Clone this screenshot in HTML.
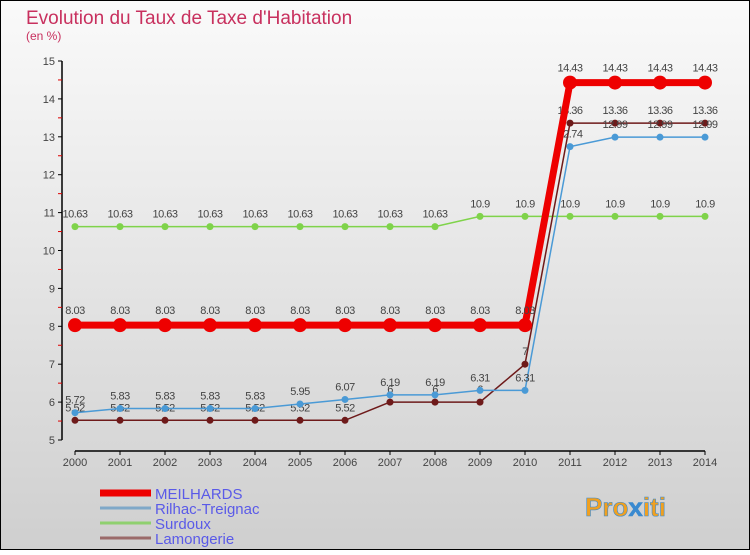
<!DOCTYPE html>
<html><head><meta charset="utf-8"><style>
body{margin:0;width:750px;height:550px;overflow:hidden;font-family:"Liberation Sans",sans-serif}
</style></head><body>
<svg width="750" height="550" xmlns="http://www.w3.org/2000/svg">
<defs><linearGradient id="bg" x1="0" y1="0" x2="0" y2="1"><stop offset="0" stop-color="#fafafa"/><stop offset="1" stop-color="#cfcfcf"/></linearGradient></defs>
<rect x="0.5" y="0.5" width="749" height="549" fill="url(#bg)" stroke="#000"/>
<text x="26" y="24" font-size="19" fill="#c8305e">Evolution du Taux de Taxe d'Habitation</text>
<text x="26" y="40" font-size="12" fill="#c8305e">(en %)</text>
<g id="axes"></g>
<g id="series"></g>
<g id="legend"></g>
<text x="585" y="516" font-size="26" font-weight="bold" fill="#f0a020" stroke="#3a8ad0" stroke-width="0.6">Pro<tspan fill="#3a8ad0">x</tspan>iti</text>
</svg>
<script>
const years=[2000,2001,2002,2003,2004,2005,2006,2007,2008,2009,2010,2011,2012,2013,2014];
const yTicks=[5,6,7,8,9,10,11,12,13,14,15];
const meilhards=[8.03,8.03,8.03,8.03,8.03,8.03,8.03,8.03,8.03,8.03,8.03,14.43,14.43,14.43,14.43];
const rilhac=[5.72,5.83,5.83,5.83,5.83,5.95,6.07,6.19,6.19,6.31,6.31,12.74,12.99,12.99,12.99];
const surdoux=[10.63,10.63,10.63,10.63,10.63,10.63,10.63,10.63,10.63,10.9,10.9,10.9,10.9,10.9,10.9];
const lamongerie=[5.52,5.52,5.52,5.52,5.52,5.52,5.52,6,6,6,7,13.36,13.36,13.36,13.36];
const NS='http://www.w3.org/2000/svg';
const X=i=>75+i*45, Y=v=>440-(v-5)*37.9;
function mk(t,a,p){const e=document.createElementNS(NS,t);for(const k in a)e.setAttribute(k,a[k]);p.appendChild(e);return e;}
const ax=document.getElementById('axes');
let l=mk('line',{x1:62,y1:61,x2:62,y2:440,stroke:'#000','stroke-width':1.5},ax);


l=mk('line',{x1:75,y1:451,x2:705,y2:451,stroke:'#000','stroke-width':1.5},ax);


yTicks.forEach(v=>{mk('line',{x1:58,x2:62,y1:Y(v),y2:Y(v),stroke:'#000'},ax);
 if(v<15)mk('line',{x1:58,x2:62,y1:Y(v+0.5),y2:Y(v+0.5),stroke:'#d00'},ax);
 const t=mk('text',{x:55,y:Y(v)+4,'font-size':11,fill:'#444','text-anchor':'end'},ax);t.textContent=v;
 
 });
years.forEach((y,i)=>{mk('line',{x1:X(i),x2:X(i),y1:451,y2:455,stroke:'#000'},ax);
 const t=mk('text',{x:X(i),y:466,'font-size':11,fill:'#444','text-anchor':'middle'},ax);t.textContent=y;
 
 });
const sg=document.getElementById('series');
function draw(vals,color,w,r,name,dy){
 const g=mk('g',{},sg);
 
 
 mk('polyline',{points:vals.map((v,i)=>X(i)+','+Y(v)).join(' '),fill:'none',stroke:color,'stroke-width':w},g);
 vals.forEach((v,i)=>{const c=mk('circle',{cx:X(i),cy:Y(v),r:r,fill:color},g);
  
  
  const t=mk('text',{x:X(i),y:Y(v)+dy,'font-size':11,fill:'#444','text-anchor':'middle','letter-spacing':'-0.5'},g);t.textContent=v;
  
  });
}
draw(surdoux,'#7fd34a',1.5,3.5,'surdoux',-9);
draw(lamongerie,'#6e1a1a',1.5,3.5,'lamongerie',-9);
draw(rilhac,'#4a9ad6',1.5,3.5,'rilhac',-9);
draw(meilhards,'#ee0000',7,7,'meilhards',-11);
const lg=document.getElementById('legend');
[['MEILHARDS','#ee0000',7],['Rilhac-Treignac','#7fa8c8',3],['Surdoux','#8fd070',3],['Lamongerie','#9a6a6a',3]].forEach((d,i)=>{
 const y=493+i*15;
 const g=mk('g',{},lg);
 
 
 mk('line',{x1:100,x2:151,y1:y,y2:y,stroke:d[1],'stroke-width':d[2]},g);
 const t=mk('text',{x:155,y:y+6,'font-size':15,fill:'#5a5ae8'},g);t.textContent=d[0];
});
</script>
</body></html>
